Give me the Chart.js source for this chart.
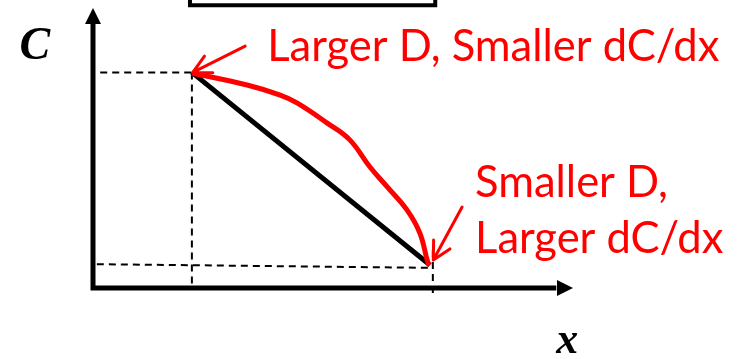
<!DOCTYPE html>
<html>
<head>
<meta charset="utf-8">
<script src="https://cdn.jsdelivr.net/npm/chart.js@4.4.1/dist/chart.umd.min.js"></script>
<style>
  html, body { margin: 0; padding: 0; background: #ffffff; }
  #wrap { width: 738px; height: 359px; position: relative; }
</style>
</head>
<body>
<div id="wrap"><canvas id="diagram"></canvas></div>
<script>
// points in data units (x: 0..10, C: 0..10)
const startPt = { x: 2.06, y: 7.7 };
const endPt = { x: 7.02, y: 0.82 };

const curveX = [2.06, 3.21, 3.90, 4.25, 4.88, 5.35, 5.77, 6.13, 6.54, 6.81, 6.98, 7.02];
const curveC = [7.68, 7.25, 6.89, 6.61, 5.89, 5.29, 4.32, 3.61, 2.79, 1.96, 0.89, 0.82];

const labelTop = 'Larger D, Smaller dC/dx';
const labelBottom = ['Smaller D,', 'Larger dC/dx'];

const ctx = document.getElementById('diagram');

const redCurve = curveX.map((x, i) => ({ x: x, y: curveC[i] }));

const dashStyle = {
    borderColor: '#000000',
    borderWidth: 2,
    borderDash: [7, 5],
    pointRadius: 0,
    showLine: true,
    fill: false,
    clip: false,
    order: 3
};

const sketchPlugin = {
    id: 'sketch',
    afterDraw(chart) {
        const c = chart.ctx;
        const sx = chart.scales.x, sy = chart.scales.y;
        const px = v => sx.getPixelForValue(v);
        const py = v => sy.getPixelForValue(v);
        c.save();

        // axes with arrowheads
        const ox = px(0), oy = py(0);
        c.strokeStyle = '#000000';
        c.fillStyle = '#000000';
        c.lineWidth = 5;
        c.lineCap = 'square';
        c.beginPath();
        c.moveTo(ox, py(9.4));
        c.lineTo(ox, oy);
        c.lineTo(px(9.6), oy);
        c.stroke();
        c.beginPath();
        c.moveTo(ox, py(10.0));
        c.lineTo(ox - 8, py(10.0) + 16);
        c.lineTo(ox + 8, py(10.0) + 16);
        c.closePath();
        c.fill();
        c.beginPath();
        c.moveTo(px(10), oy);
        c.lineTo(px(10) - 16, oy - 8);
        c.lineTo(px(10) - 16, oy + 8);
        c.closePath();
        c.fill();

        // partial box at the top
        c.lineWidth = 4;
        c.lineCap = 'butt';
        c.beginPath();
        c.moveTo(px(2.02), -5);
        c.lineTo(px(2.02), py(10.1));
        c.lineTo(px(7.13), py(10.1));
        c.lineTo(px(7.13), -5);
        c.stroke();

        // axis labels
        c.fillStyle = '#000000';
        c.textAlign = 'center';
        c.textBaseline = 'alphabetic';
        c.font = 'italic bold 46px "Liberation Serif", serif';
        c.fillText('C', px(-1.21), py(8.18));
        c.font = 'italic bold 44px "Liberation Serif", serif';
        c.fillText('x', px(9.88), py(-2.33));

        // red arrows
        const arrow = (x1, y1, x2, y2) => {
            const ax = px(x1), ay = py(y1), bx = px(x2), by = py(y2);
            const ang = Math.atan2(by - ay, bx - ax);
            const len = 20, spread = Math.PI / 6.5;
            c.beginPath();
            c.moveTo(ax, ay);
            c.lineTo(bx, by);
            c.moveTo(bx - len * Math.cos(ang - spread), by - len * Math.sin(ang - spread));
            c.lineTo(bx, by);
            c.lineTo(bx - len * Math.cos(ang + spread), by - len * Math.sin(ang + spread));
            c.stroke();
        };
        c.strokeStyle = '#ff0000';
        c.lineWidth = 3;
        c.lineCap = 'round';
        c.lineJoin = 'round';
        arrow(3.17, 8.64, startPt.x + 0.02, startPt.y);
        arrow(7.69, 2.89, 7.09, 1.0);

        // red annotations
        c.fillStyle = '#ff0000';
        c.textAlign = 'left';
        c.font = '43.5px Lato, "Open Sans", sans-serif';
        c.fillText(labelTop, px(3.63), py(8.1));
        c.fillText(labelBottom[0], px(7.96), py(3.25));
        c.fillText(labelBottom[1], px(7.96), py(1.25));

        c.restore();
    }
};

new Chart(ctx, {
    type: 'scatter',
    data: {
        datasets: [
            Object.assign({ data: [{ x: 0.15, y: startPt.y }, { x: startPt.x, y: startPt.y }] }, dashStyle),
            Object.assign({ data: [{ x: startPt.x, y: startPt.y }, { x: startPt.x, y: 0 }] }, dashStyle),
            Object.assign({ data: [{ x: 0.08, y: endPt.y + 0.03 }, { x: 7.08, y: endPt.y - 0.1 }] }, dashStyle),
            Object.assign({ data: [{ x: 7.08, y: 1.36 }, { x: 7.08, y: -0.18 }] }, dashStyle),
            {
                data: [startPt, endPt],
                borderColor: '#000000',
                borderWidth: 5,
                pointRadius: 0,
                showLine: true,
                fill: false,
                order: 2
            },
            {
                data: redCurve,
                borderColor: '#ff0000',
                borderWidth: 5,
                pointRadius: 0,
                showLine: true,
                tension: 0.4,
                fill: false,
                clip: false,
                order: 1
            }
        ]
    },
    options: {
        responsive: true,
        maintainAspectRatio: false,
        animation: false,
        layout: { padding: { left: 93, right: 165, top: 8, bottom: 71 } },
        plugins: {
            legend: { display: false },
            tooltip: { enabled: false },
            title: { display: false }
        },
        scales: {
            x: { type: 'linear', min: 0, max: 10, display: false },
            y: { type: 'linear', min: 0, max: 10, display: false }
        }
    },
    plugins: [sketchPlugin]
});
</script>
</body>
</html>
